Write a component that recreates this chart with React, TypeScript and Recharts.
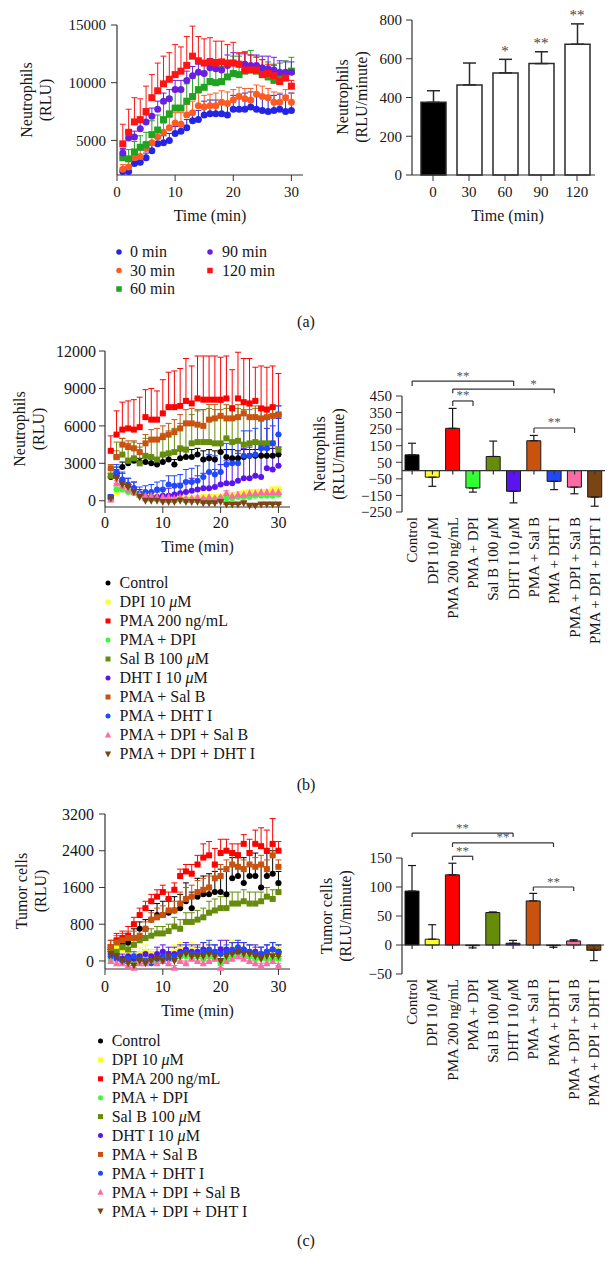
import React from "react";
import {
  Bar,
  BarChart,
  Cell,
  ErrorBar,
  ReferenceDot,
  ReferenceLine,
  Scatter,
  ScatterChart,
  XAxis,
  YAxis
} from "recharts";

const SERIF = '"Liberation Serif", "DejaVu Serif", serif';
const INK = "#161616";
const AXIS = "#333333";

// sampling minutes
const TIME = [1, 2, 3, 4, 5, 6, 7, 8, 9, 10, 11, 12, 13, 14, 15, 16, 17, 18, 19, 20, 21, 22, 23, 24, 25, 26, 27, 28, 29, 30];

// ---- (a) neutrophils, RLU vs time, by pre-incubation time
const A_0 = [2300, 2300, 3000, 3100, 3500, 4100, 4700, 4800, 5000, 5600, 5800, 6100, 6700, 6800, 7200, 7300, 7300, 7300, 7200, 7700, 7700, 7700, 7900, 7700, 7600, 7500, 7600, 7700, 7500, 7600];
const A_0_ERR = [300, 400, 300, 400, 400, 500, 500, 600, 600, 600, 700, 700, 800, 800, 1200, 1200, 1200, 1100, 1100, 1200, 1300, 1400, 1300, 1300, 1300, 1400, 1300, 1300, 1400, 1500];
const A_30 = [2500, 2700, 3500, 3600, 4300, 4800, 5300, 5700, 6100, 6500, 6400, 7200, 7400, 8000, 7900, 8000, 8000, 8300, 8200, 8500, 8800, 8600, 8500, 9000, 8800, 8700, 8300, 8300, 8700, 8300];
const A_30_ERR = [400, 500, 500, 600, 600, 700, 700, 800, 900, 900, 1000, 900, 1000, 1100, 1000, 1000, 1100, 1000, 1000, 900, 800, 900, 1000, 800, 900, 800, 900, 800, 700, 800];
const A_60 = [3500, 3400, 4000, 4400, 4600, 5500, 5900, 6800, 7300, 7800, 7800, 8400, 8800, 9400, 9600, 10100, 10000, 10100, 10500, 10800, 10700, 11000, 11200, 11000, 10800, 10500, 10200, 10500, 10800, 11000];
const A_60_ERR = [700, 800, 900, 1000, 1100, 1200, 1300, 1400, 1500, 1600, 1500, 1500, 1600, 1500, 1400, 1400, 1300, 1300, 1300, 1500, 1600, 1700, 1600, 1300, 1200, 1300, 1400, 1200, 1100, 1200];
const A_90 = [3900, 5200, 5300, 6000, 6600, 7100, 7700, 8400, 8600, 9400, 9400, 10200, 10600, 10900, 10800, 11300, 11200, 11100, 11500, 11700, 11600, 11600, 11500, 11500, 11300, 11200, 11100, 10900, 10900, 10900];
const A_90_ERR = [400, 500, 500, 600, 600, 700, 700, 700, 800, 800, 800, 800, 800, 700, 700, 800, 800, 800, 900, 900, 900, 900, 900, 900, 1000, 1100, 1100, 1000, 900, 900];
const A_120 = [4700, 5700, 6600, 6800, 7500, 8700, 9300, 9900, 10300, 10700, 11000, 11500, 12300, 11900, 11700, 11800, 11700, 11800, 11700, 11700, 11600, 11100, 11100, 11100, 10700, 10800, 10600, 10100, 10400, 9700];
const A_120_ERR = [1700, 2000, 2100, 1800, 2200, 2000, 2400, 2400, 2300, 2600, 2100, 2500, 2600, 2100, 2100, 2100, 1900, 1800, 1600, 1800, 1000, 1500, 1300, 1100, 1300, 800, 900, 900, 600, 500];

const A_BAR_CATS = ["0", "30", "60", "90", "120"];
const A_BAR_MEAN = [375, 465, 527, 575, 675];
const A_BAR_ERR = [60, 113, 70, 61, 105];
const A_BAR_STARS = ["", "", "*", "**", "**"];

// ---- (b), (c) treatment groups
const GROUPS = [
  "Control",
  "DPI 10 μM",
  "PMA 200 ng/mL",
  "PMA + DPI",
  "Sal B 100 μM",
  "DHT I 10 μM",
  "PMA + Sal B",
  "PMA + DHT I",
  "PMA + DPI + Sal B",
  "PMA + DPI + DHT I"
];

// (b) neutrophils
const B_CTRL = [1900, 2200, 2700, 3000, 3200, 3100, 3100, 3000, 2900, 3100, 3300, 2900, 3400, 3500, 3500, 3700, 3300, 3400, 3300, 3900, 3500, 3400, 3400, 3500, 3600, 3600, 3600, 3600, 3600, 3700];
const B_CTRL_ERR = [300, 500, 400, 400, 300, 300, 400, 400, 400, 500, 500, 400, 600, 600, 600, 500, 700, 700, 700, 600, 600, 700, 600, 600, 500, 500, 500, 500, 600, 600];
const B_DPI = [200, 700, 1000, 900, 700, 500, 400, 300, 300, 300, 200, 200, 200, 200, 200, 200, 300, 300, 300, 300, 400, 400, 500, 600, 700, 700, 700, 700, 900, 900];
const B_DPI_ERR = [100, 200, 200, 200, 200, 100, 100, 100, 100, 100, 100, 100, 100, 100, 100, 100, 100, 100, 100, 100, 100, 100, 100, 200, 200, 200, 200, 200, 200, 200];
const B_PMA = [4000, 5300, 5700, 5800, 5700, 5900, 6700, 6500, 6500, 7000, 7500, 7500, 7600, 8000, 7800, 8200, 8100, 8100, 8100, 8100, 8200, 7400, 8200, 7900, 7800, 8000, 7400, 7300, 7500, 6900];
const B_PMA_ERR = [1200, 1900, 2200, 2200, 2400, 2400, 2200, 2500, 2300, 2700, 2800, 2900, 3000, 3400, 3000, 3400, 3500, 3500, 3500, 3400, 3400, 3100, 3700, 3500, 3600, 2700, 3400, 3400, 3300, 3300];
const B_PMA_DPI = [100, 900, 900, 700, 600, 400, 300, 200, 200, 200, 100, 100, 100, 100, 100, 100, 100, 100, 100, 200, 200, 200, 300, 300, 300, 400, 400, 400, 400, 500];
const B_PMA_DPI_ERR = [100, 200, 200, 200, 100, 100, 100, 100, 100, 100, 100, 100, 100, 100, 100, 100, 100, 100, 100, 100, 100, 100, 100, 100, 100, 100, 100, 100, 100, 100];
const B_SALB = [2000, 3500, 3700, 3200, 3400, 3000, 3600, 3500, 3300, 3700, 3800, 3900, 4200, 4100, 4600, 4700, 4700, 4700, 4600, 4600, 5000, 4700, 4800, 4500, 4600, 4700, 4600, 4600, 4600, 4100];
const B_SALB_ERR = [500, 1200, 1300, 1400, 1300, 1300, 1400, 1500, 1700, 1700, 1800, 1900, 2000, 2100, 2300, 2500, 2600, 2700, 2700, 2700, 2400, 2600, 2600, 2800, 2700, 2700, 2800, 2700, 2800, 2900];
const B_DHT = [200, 2000, 1600, 1200, 1000, 500, 300, 300, 300, 400, 400, 500, 600, 700, 800, 900, 1000, 1000, 1100, 1300, 1400, 1400, 1600, 1800, 1800, 2000, 1900, 2600, 2500, 2800];
const B_DHT_ERR = [200, 500, 600, 600, 500, 400, 400, 400, 400, 500, 600, 700, 800, 900, 1000, 1100, 1200, 1300, 1400, 1600, 1800, 1900, 2200, 2400, 2500, 2700, 2800, 3200, 3500, 3800];
const B_PMA_SALB = [2600, 3500, 4500, 4300, 4200, 3900, 4600, 4900, 4900, 5100, 5300, 5500, 5800, 6200, 6200, 6100, 6000, 6500, 6600, 6800, 6600, 6600, 6700, 7000, 6700, 6700, 6600, 6700, 6800, 6900];
const B_PMA_SALB_ERR = [300, 500, 500, 500, 600, 700, 700, 800, 900, 900, 900, 1000, 1100, 1100, 1200, 1200, 1300, 1200, 1100, 1100, 1100, 1000, 1000, 900, 900, 900, 800, 800, 800, 700];
const B_PMA_DHT = [300, 2300, 1700, 1300, 1000, 600, 700, 700, 900, 900, 1300, 1200, 1200, 1500, 1500, 1600, 1900, 2300, 2100, 2300, 2900, 3000, 3000, 3600, 3600, 3700, 4200, 4200, 4600, 5300];
const B_PMA_DHT_ERR = [200, 600, 600, 500, 500, 500, 500, 600, 600, 700, 700, 800, 900, 1000, 1100, 1200, 1300, 1400, 1500, 1600, 1700, 1800, 1900, 2000, 2000, 2100, 2200, 2300, 2300, 2300];
const B_PDS = [100, 1400, 1200, 900, 700, 500, 400, 400, 300, 300, 300, 200, 300, 200, 200, 300, 200, 300, 200, 300, 600, 400, 500, 500, 600, 600, 700, 700, 700, 700];
const B_PDS_ERR = [100, 200, 200, 200, 200, 100, 100, 100, 100, 100, 100, 100, 100, 100, 100, 100, 100, 100, 100, 100, 200, 200, 200, 200, 200, 200, 200, 200, 200, 200];
const B_PDD = [200, 1800, 1300, 1100, 700, 300, 0, 0, 0, -100, -100, -100, 0, -100, -100, -100, -200, -200, -200, -100, -300, -300, -300, -200, -400, -400, -300, -300, -300, -300];
const B_PDD_ERR = [100, 200, 200, 200, 100, 100, 100, 100, 100, 100, 100, 100, 100, 100, 100, 100, 100, 100, 100, 100, 100, 100, 100, 100, 100, 100, 100, 100, 100, 100];

const B_BAR_MEAN = [95, -40, 255, -105, 85, -125, 180, -65, -100, -160];
const B_BAR_ERR = [70, 55, 120, 25, 93, 70, 32, 50, 40, 55];

// (c) tumor cells
const C_CTRL = [250, 300, 350, 400, 500, 700, 700, 900, 1000, 1000, 1050, 1100, 1150, 1300, 1150, 1400, 1450, 1450, 1500, 1500, 1450, 1800, 1850, 1700, 1850, 1850, 1600, 1850, 1900, 1700];
const C_CTRL_ERR = [100, 150, 150, 200, 200, 150, 200, 200, 250, 300, 300, 300, 300, 400, 350, 400, 400, 450, 450, 500, 500, 450, 500, 550, 550, 500, 500, 500, 500, 250];
const C_DPI = [100, 300, 250, 200, 100, 150, 200, 150, 150, 150, 100, 200, 250, 200, 250, 200, 200, 250, 200, 150, 200, 250, 250, 200, 200, 200, 150, 150, 200, 250];
const C_DPI_ERR = [100, 150, 150, 150, 150, 150, 150, 100, 100, 100, 100, 150, 150, 150, 150, 150, 150, 150, 150, 150, 200, 200, 200, 150, 150, 150, 100, 100, 100, 100];
const C_PMA = [300, 450, 500, 550, 800, 1000, 1150, 1300, 1400, 1500, 1350, 1550, 1850, 1950, 1900, 2100, 2250, 2300, 2100, 2350, 2400, 2350, 2300, 2550, 2350, 2550, 2500, 2400, 2550, 2400];
const C_PMA_ERR = [150, 150, 150, 200, 150, 150, 150, 150, 150, 150, 150, 150, 150, 150, 200, 200, 300, 300, 350, 300, 250, 200, 250, 200, 300, 300, 400, 450, 550, 200];
const C_PMA_DPI = [50, 100, 50, 0, -50, 50, 100, 50, 0, 50, 100, 50, 100, 100, 50, 100, 50, 100, 50, -50, 50, 100, 150, 100, 100, 50, 50, 50, 50, 50];
const C_PMA_DPI_ERR = [50, 50, 50, 50, 50, 50, 50, 50, 50, 50, 50, 50, 50, 50, 50, 50, 50, 50, 50, 50, 50, 50, 50, 50, 50, 50, 50, 50, 50, 50];
const C_SALB = [250, 200, 300, 250, 350, 450, 500, 550, 600, 600, 650, 750, 700, 850, 850, 900, 950, 1050, 1100, 1150, 1150, 1250, 1250, 1300, 1250, 1250, 1300, 1400, 1350, 1500];
const C_SALB_ERR = [100, 100, 100, 100, 100, 100, 150, 150, 150, 150, 150, 200, 200, 200, 200, 200, 200, 250, 250, 250, 250, 250, 250, 250, 250, 250, 200, 200, 200, 150];
const C_DHT = [150, 100, 50, 100, 50, 100, 150, 100, 150, 200, 150, 150, 200, 250, 200, 200, 250, 200, 200, 250, 250, 200, 200, 250, 200, 200, 150, 200, 250, 200];
const C_DHT_ERR = [100, 100, 100, 100, 100, 100, 100, 100, 150, 150, 150, 150, 150, 150, 150, 150, 150, 150, 150, 200, 200, 200, 200, 150, 150, 150, 150, 150, 150, 150];
const C_PMA_SALB = [300, 400, 450, 500, 500, 550, 700, 900, 950, 1000, 1100, 1100, 1250, 1350, 1400, 1500, 1550, 1600, 1800, 1850, 2000, 2100, 2050, 2000, 2100, 2050, 2100, 2000, 2300, 2050];
const C_PMA_SALB_ERR = [150, 150, 150, 150, 150, 150, 150, 150, 200, 200, 200, 200, 250, 250, 250, 250, 250, 250, 250, 250, 200, 200, 200, 200, 200, 200, 200, 200, 200, 150];
const C_PMA_DHT = [100, 50, 0, 50, 100, 50, 0, -50, 50, 100, 50, 100, 150, 200, 150, 150, 200, 250, 200, 150, 200, 250, 300, 250, 200, 150, 150, 200, 250, 200];
const C_PMA_DHT_ERR = [100, 100, 100, 100, 100, 100, 100, 100, 100, 100, 100, 100, 150, 150, 150, 150, 200, 200, 150, 150, 150, 150, 150, 150, 150, 150, 150, 150, 150, 150];
const C_PDS = [0, -50, -50, -100, -150, -50, -50, 0, -50, 0, -50, -150, 0, -50, 50, 0, -50, 0, 50, -150, 0, 50, 100, 50, 0, -50, -100, -50, 0, -100];
const C_PDS_ERR = [50, 50, 50, 50, 50, 50, 50, 50, 50, 50, 50, 50, 50, 50, 50, 50, 50, 50, 50, 50, 50, 50, 50, 50, 50, 50, 50, 50, 50, 50];
const C_PDD = [150, 100, 0, -50, -100, 0, -50, 0, 50, 0, 100, 0, 100, 150, 100, 100, 100, 150, 100, 0, 100, 150, 200, 150, 150, 100, 50, 100, 100, 100];
const C_PDD_ERR = [100, 100, 100, 100, 100, 100, 100, 100, 100, 100, 100, 100, 100, 100, 100, 100, 100, 100, 100, 100, 100, 100, 100, 100, 100, 100, 100, 100, 100, 100];

const C_BAR_MEAN = [93, 10, 121, -1, 56, 3, 76, -1, 7, -9];
const C_BAR_ERR = [44, 25, 20, 4, 1, 5, 13, 3, 2, 18];

// significance brackets: group indices, height in data units
const B_BRACKETS = [
  { from: 0, to: 5, y: 540, drop: 30, text: "**", shift: 0 },
  { from: 2, to: 7, y: 492, drop: 25, text: "*", shift: 30 },
  { from: 2, to: 3, y: 420, drop: 30, text: "**", shift: 0 },
  { from: 6, to: 8, y: 257, drop: 30, text: "**", shift: 0 }
];
const C_BRACKETS = [
  { from: 0, to: 5, y: 193, drop: 7, text: "**", shift: 0 },
  { from: 2, to: 7, y: 176, drop: 7, text: "**", shift: 0 },
  { from: 2, to: 3, y: 153, drop: 7, text: "**", shift: 0 },
  { from: 6, to: 8, y: 100, drop: 7, text: "**", shift: 0 }
];

type Mark = "circle" | "square" | "tri" | "down";

const GROUP_COLORS = ["#000000", "#ffff2a", "#ff0000", "#33ff33", "#678c0a", "#5a14f0", "#c9520e", "#1f48ff", "#ff6aa6", "#7a4512"];
const GROUP_MARKS: Mark[] = ["circle", "square", "square", "circle", "square", "circle", "square", "circle", "tri", "down"];

const A_SERIES = [
  { name: "0 min", color: "#2424e6", kind: "circle" as Mark, values: A_0, errors: A_0_ERR },
  { name: "30 min", color: "#ff5a22", kind: "circle" as Mark, values: A_30, errors: A_30_ERR },
  { name: "60 min", color: "#20a320", kind: "square" as Mark, values: A_60, errors: A_60_ERR },
  { name: "90 min", color: "#6a1ee0", kind: "circle" as Mark, values: A_90, errors: A_90_ERR },
  { name: "120 min", color: "#ff1414", kind: "square" as Mark, values: A_120, errors: A_120_ERR }
];

const B_VALUES = [B_CTRL, B_DPI, B_PMA, B_PMA_DPI, B_SALB, B_DHT, B_PMA_SALB, B_PMA_DHT, B_PDS, B_PDD];
const B_ERRORS = [B_CTRL_ERR, B_DPI_ERR, B_PMA_ERR, B_PMA_DPI_ERR, B_SALB_ERR, B_DHT_ERR, B_PMA_SALB_ERR, B_PMA_DHT_ERR, B_PDS_ERR, B_PDD_ERR];
const C_VALUES = [C_CTRL, C_DPI, C_PMA, C_PMA_DPI, C_SALB, C_DHT, C_PMA_SALB, C_PMA_DHT, C_PDS, C_PDD];
const C_ERRORS = [C_CTRL_ERR, C_DPI_ERR, C_PMA_ERR, C_PMA_DPI_ERR, C_SALB_ERR, C_DHT_ERR, C_PMA_SALB_ERR, C_PMA_DHT_ERR, C_PDS_ERR, C_PDD_ERR];

const groupSeries = (values: number[][], errors: number[][]) =>
  GROUPS.map((name, i) => ({ name, color: GROUP_COLORS[i], kind: GROUP_MARKS[i], values: values[i], errors: errors[i] }));

const B_SERIES = groupSeries(B_VALUES, B_ERRORS);
const C_SERIES = groupSeries(C_VALUES, C_ERRORS);

const tickStyle = (size: number) => ({ fill: INK, fontSize: size, fontFamily: SERIF });
const signed = (v: number) => (v < 0 ? "\u2212" + Math.abs(v) : String(v));

const withMu = (s: string) =>
  s.split("μ").map((part, i) => (
    <React.Fragment key={i}>
      {i > 0 && <tspan fontStyle="italic">μ</tspan>}
      {part}
    </React.Fragment>
  ));

const Marker = ({ kind, x, y, s, fill }: { kind: Mark; x: number; y: number; s: number; fill: string }) => {
  const h = s / 2;
  if (kind === "circle") return <circle cx={x} cy={y} r={h} fill={fill} />;
  if (kind === "square") return <rect x={x - h} y={y - h} width={s} height={s} fill={fill} />;
  if (kind === "tri")
    return <polygon points={`${x},${y - h - 1} ${x + h + 0.6},${y + h} ${x - h - 0.6},${y + h}`} fill={fill} />;
  return <polygon points={`${x},${y + h + 1} ${x + h + 0.6},${y - h} ${x - h - 0.6},${y - h}`} fill={fill} />;
};

// two-line rotated y title
const stackedY = (lines: string[], xs: number[], cy: number) => () => (
  <g>
    {lines.map((s, i) => (
      <text
        key={s}
        x={xs[i]}
        y={cy}
        transform={`rotate(-90 ${xs[i]} ${cy})`}
        textAnchor="middle"
        dy="0.34em"
        fill={INK}
        fontFamily={SERIF}
        fontSize={16}
      >
        {s}
      </text>
    ))}
  </g>
);

const RotTick = (p: any) => {
  const { x, y, payload } = p;
  return (
    <text
      x={x}
      y={y}
      transform={`rotate(-90 ${x} ${y})`}
      textAnchor="end"
      dy="0.34em"
      fill={INK}
      fontFamily={SERIF}
      fontSize={15}
    >
      {withMu(String(payload.value))}
    </text>
  );
};

type Series = { name: string; color: string; kind: Mark; values: number[]; errors: number[] };

function TimeCourse(props: {
  width: number;
  height: number;
  margin: any;
  series: Series[];
  yDomain: number[];
  yTicks: number[];
  yLabel: any;
  font: number;
  yGap: number;
  xGap: number;
  titleGap: number;
  mark: number;
}) {
  const { width, height, margin, series, yDomain, yTicks, yLabel, font, yGap, xGap, titleGap, mark } = props;
  return (
    <ScatterChart width={width} height={height} margin={margin}>
      <XAxis
        type="number"
        dataKey="t"
        domain={[0, 32]}
        ticks={[0, 10, 20, 30]}
        interval={0}
        height={30}
        stroke={AXIS}
        axisLine={{ stroke: AXIS, strokeWidth: 1.2 }}
        tick={tickStyle(font)}
        tickMargin={xGap}
        label={{ value: "Time (min)", position: "bottom", offset: titleGap, fill: INK, fontSize: 16, fontFamily: SERIF }}
      />
      <YAxis
        type="number"
        dataKey="v"
        domain={yDomain}
        ticks={yTicks}
        interval={0}
        width={50}
        stroke={AXIS}
        axisLine={{ stroke: AXIS, strokeWidth: 1.2 }}
        tick={tickStyle(font)}
        tickMargin={yGap}
        label={yLabel}
      />
      {series.map(s => (
        <Scatter
          key={s.name}
          name={s.name}
          data={TIME.map((t, i) => ({ t, v: s.values[i], e: [0, s.errors[i]] }))}
          isAnimationActive={false}
          shape={(p: any) => <Marker kind={s.kind} x={p.cx} y={p.cy} s={mark} fill={s.color} />}
        >
          <ErrorBar dataKey="e" direction="y" width={3} stroke={s.color} strokeWidth={1} />
        </Scatter>
      ))}
    </ScatterChart>
  );
}

function StimBars() {
  const data = A_BAR_CATS.map((name, i) => ({ name, v: A_BAR_MEAN[i], e: [0, A_BAR_ERR[i]] }));
  return (
    <BarChart width={306} height={230} data={data} margin={{ top: 20, right: 21, bottom: 25, left: 52 }}>
      <XAxis
        dataKey="name"
        interval={0}
        padding={{ left: 3, right: 0 }}
        height={30}
        stroke={AXIS}
        axisLine={{ stroke: AXIS, strokeWidth: 1.2 }}
        tick={tickStyle(15)}
        tickMargin={5}
        label={{ value: "Time (min)", position: "bottom", offset: 5, dx: 4, fill: INK, fontSize: 16, fontFamily: SERIF }}
      />
      <YAxis
        domain={[0, 800]}
        ticks={[0, 200, 400, 600, 800]}
        interval={0}
        width={50}
        stroke={AXIS}
        axisLine={{ stroke: AXIS, strokeWidth: 1.2 }}
        tick={tickStyle(15)}
        tickMargin={4}
        label={stackedY(["Neutrophils", "(RLU/minute)"], [33, 52], 97)}
      />
      <Bar dataKey="v" barSize={25} stroke="#2a2a2a" strokeWidth={1.5} isAnimationActive={false}>
        {data.map((d, i) => (
          <Cell key={d.name} fill={i === 0 ? "#000000" : "#ffffff"} />
        ))}
        <ErrorBar dataKey="e" direction="y" width={6.5} stroke="#2a2a2a" strokeWidth={1.5} />
      </Bar>
      {A_BAR_CATS.map((c, i) =>
        A_BAR_STARS[i] ? (
          <ReferenceDot
            key={c}
            x={c}
            y={A_BAR_MEAN[i] + A_BAR_ERR[i]}
            r={0}
            fill="none"
            stroke="none"
            label={{ value: A_BAR_STARS[i], position: "top", offset: 3.5, fill: "#444", fontSize: 15, fontFamily: SERIF }}
          />
        ) : null
      )}
    </BarChart>
  );
}

type Bracket = { from: number; to: number; y: number; drop: number; text: string; shift: number };

function GroupBars(props: {
  top: number;
  right: number;
  axisHeight: number;
  means: number[];
  errs: number[];
  domain: number[];
  ticks: number[];
  brackets: Bracket[];
  zeroTick: number;
  yLabel: any;
}) {
  const { top, right, axisHeight, means, errs, domain, ticks, brackets, zeroTick, yLabel } = props;
  const data = GROUPS.map((name, i) => ({
    name,
    v: means[i],
    e: means[i] >= 0 ? [0, errs[i]] : [errs[i], 0]
  }));
  const line = { stroke: "#333", strokeWidth: 1.2, ifOverflow: "visible" as const };
  return (
    <BarChart width={316} height={330} data={data} margin={{ top, right, bottom: 0, left: 52 }}>
      <XAxis
        dataKey="name"
        interval={0}
        axisLine={false}
        tickLine={false}
        tickSize={5}
        tickMargin={0}
        height={axisHeight}
        tick={(p: any) => <RotTick {...p} />}
      />
      <YAxis
        domain={domain}
        ticks={ticks}
        interval={0}
        width={50}
        stroke={AXIS}
        axisLine={{ stroke: AXIS, strokeWidth: 1.2 }}
        tick={tickStyle(15)}
        tickMargin={4}
        tickFormatter={signed}
        label={yLabel}
      />
      <ReferenceLine y={0} stroke={AXIS} strokeWidth={1.2} />
      {/* category ticks hanging from the zero line */}
      {GROUPS.map(g => (
        <ReferenceLine
          key={`z-${g}`}
          stroke={AXIS}
          strokeWidth={1.2}
          segment={[
            { x: g, y: 0 },
            { x: g, y: -zeroTick }
          ]}
        />
      ))}
      <Bar dataKey="v" barSize={14} stroke="#1a1a1a" strokeWidth={1} isAnimationActive={false}>
        {data.map((d, i) => (
          <Cell key={d.name} fill={GROUP_COLORS[i]} />
        ))}
        <ErrorBar dataKey="e" direction="y" width={4} stroke="#1a1a1a" strokeWidth={1.2} />
      </Bar>
      {brackets.map((b, k) => [
        <ReferenceLine
          key={`h${k}`}
          {...line}
          segment={[
            { x: GROUPS[b.from], y: b.y },
            { x: GROUPS[b.to], y: b.y }
          ]}
          label={{ value: b.text, position: "top", offset: 1.5, dx: b.shift, fill: "#555", fontSize: 13, fontFamily: SERIF }}
        />,
        <ReferenceLine
          key={`l${k}`}
          {...line}
          segment={[
            { x: GROUPS[b.from], y: b.y },
            { x: GROUPS[b.from], y: b.y - b.drop }
          ]}
        />,
        <ReferenceLine
          key={`r${k}`}
          {...line}
          segment={[
            { x: GROUPS[b.to], y: b.y },
            { x: GROUPS[b.to], y: b.y - b.drop }
          ]}
        />
      ])}
    </BarChart>
  );
}

const LegendRows = ({ items, x, tx, y0, gap, s }: { items: Series[]; x: number; tx: number; y0: number; gap: number; s: number }) => (
  <g>
    {items.map((it, i) => (
      <g key={it.name}>
        <Marker kind={it.kind} x={x} y={y0 + i * gap} s={s} fill={it.color} />
        <text x={tx} y={y0 + i * gap} dy="0.34em" fill={INK} fontFamily={SERIF} fontSize={16}>
          {withMu(it.name)}
        </text>
      </g>
    ))}
  </g>
);

const PanelTag = ({ y, text }: { y: number; text: string }) => (
  <text x={306} y={y} dy="0.34em" textAnchor="middle" fill={INK} fontFamily={SERIF} fontSize={16}>
    {text}
  </text>
);

export default function App() {
  return (
    <div style={{ position: "absolute", left: 0, top: 0, width: 616, height: 1274, background: "#fff" }}>
      <div style={{ position: "absolute", left: 0, top: 0 }}>
        <TimeCourse
          width={310}
          height={230}
          margin={{ top: 25, right: 7, bottom: 25, left: 67 }}
          series={A_SERIES}
          yDomain={[2000, 15000]}
          yTicks={[5000, 10000, 15000]}
          yLabel={stackedY(["Neutrophils", "(RLU)"], [27, 46], 100)}
          font={15}
          yGap={5}
          xGap={5}
          titleGap={5}
          mark={7}
        />
      </div>
      <div style={{ position: "absolute", left: 310, top: 0 }}>
        <StimBars />
      </div>

      <div style={{ position: "absolute", left: 0, top: 330 }}>
        <TimeCourse
          width={300}
          height={230}
          margin={{ top: 21, right: 10, bottom: 23, left: 55 }}
          series={B_SERIES}
          yDomain={[-500, 12000]}
          yTicks={[0, 3000, 6000, 9000, 12000]}
          yLabel={stackedY(["Neutrophils", "(RLU)"], [20, 39], 99)}
          font={16}
          yGap={3}
          xGap={4}
          titleGap={4}
          mark={6}
        />
      </div>
      <div style={{ position: "absolute", left: 300, top: 330 }}>
        <GroupBars
          top={66}
          right={11}
          axisHeight={148}
          means={B_BAR_MEAN}
          errs={B_BAR_ERR}
          domain={[-250, 450]}
          ticks={[-250, -150, -50, 50, 150, 250, 350, 450]}
          brackets={B_BRACKETS}
          zeroTick={24}
          yLabel={stackedY(["Neutrophils", "(RLU/minute)"], [20, 39], 124)}
        />
      </div>

      <div style={{ position: "absolute", left: 0, top: 790 }}>
        <TimeCourse
          width={300}
          height={240}
          margin={{ top: 24, right: 10, bottom: 31, left: 55 }}
          series={C_SERIES}
          yDomain={[-175, 3200]}
          yTicks={[0, 800, 1600, 2400, 3200]}
          yLabel={stackedY(["Tumor cells", "(RLU)"], [22, 41], 101)}
          font={16}
          yGap={5}
          xGap={6}
          titleGap={6}
          mark={6}
        />
      </div>
      <div style={{ position: "absolute", left: 300, top: 790 }}>
        <GroupBars
          top={68}
          right={12}
          axisHeight={146}
          means={C_BAR_MEAN}
          errs={C_BAR_ERR}
          domain={[-50, 150]}
          ticks={[-50, 0, 50, 100, 150]}
          brackets={C_BRACKETS}
          zeroTick={7}
          yLabel={stackedY(["Tumor cells", "(RLU/minute)"], [27, 46], 126)}
        />
      </div>

      <svg width={616} height={1274} style={{ position: "absolute", left: 0, top: 0, pointerEvents: "none" }}>
        <LegendRows items={A_SERIES.slice(0, 3)} x={119} tx={130} y0={252} gap={18.5} s={5.5} />
        <LegendRows items={A_SERIES.slice(3)} x={210} tx={222} y0={252} gap={18.5} s={5.5} />
        <PanelTag y={322} text="(a)" />
        <LegendRows items={B_SERIES} x={108} tx={119.5} y0={583} gap={19} s={5} />
        <PanelTag y={785} text="(b)" />
        <LegendRows items={C_SERIES} x={100.5} tx={111.7} y0={1041} gap={18.9} s={5} />
        <PanelTag y={1241} text="(c)" />
      </svg>
    </div>
  );
}
